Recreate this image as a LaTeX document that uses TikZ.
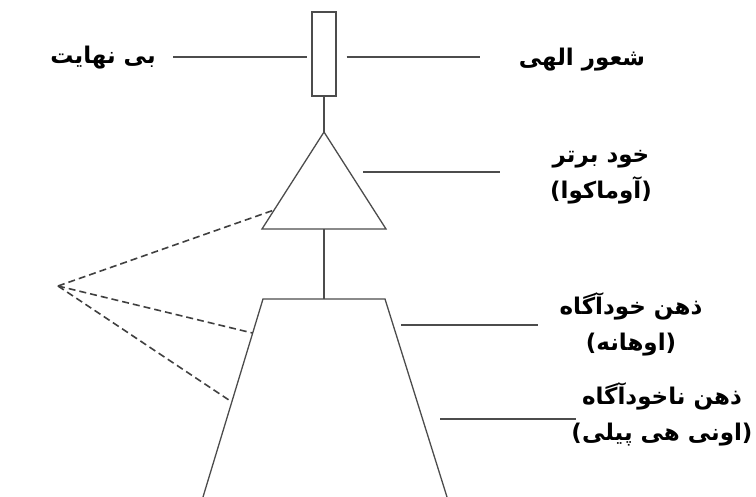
\documentclass[tikz,border=0pt]{standalone}
\usepackage{fontspec}
\newfontfamily\fafont[Script=Arabic]{DejaVu Sans}
\TeXXeTstate=1
\usetikzlibrary{calc}

\tikzset{
  part/.style={draw=black!70, line width=1.3pt},
  lead/.style={draw=black!70, line width=1.3pt},
  hint/.style={draw=black!75, line width=1.6pt, dash pattern=on 7pt off 4pt},
  lbl/.style={font=\fafont\bfseries\fontsize{23}{36}\selectfont, align=center, inner sep=0pt},
}

\begin{document}
\begin{tikzpicture}[x=1pt,y=-1pt]
\useasboundingbox (0,0) rectangle (756,497);
\def \cx {324}
\def \gap {4}

% the bar, the triangle and the trunk
\node[part, minimum width=24pt, minimum height=84pt, inner sep=0pt] (bar) at (\cx,54) {};
\coordinate (apex) at (\cx,132);
\coordinate (tbl) at (262,229);
\coordinate (tbr) at (386,229);
\coordinate (ztl) at (263,299);
\coordinate (ztr) at (385,299);
\coordinate (zbl) at (203,497);
\coordinate (zbr) at (447,497);
\draw[part] (apex) -- (tbl) -- (tbr) -- cycle;
\draw[part] (zbl) -- (ztl) -- (ztr) -- (zbr);
\draw[part] (bar.south) -- (apex);
\draw[part] (\cx,229) -- (\cx,299);

% labels
\node[lbl] (infinite) at (103,58) {\beginR بی نهایت\endR};
\node[lbl] (divine) at (582,60) {\beginR شعور الهی\endR};
\node[lbl] (higher) at (601,177) {\beginR خود برتر\endR\\\beginR(آوماکوا)\endR};
\node[lbl] (conscious) at (631,324) {\beginR ذهن خودآگاه\endR\\\beginR(اوهانه)\endR};
\node[lbl] (subcon) at (662,414) {\beginR ذهن ناخودآگاه\endR\\\beginR(اونی هی پیلی)\endR};

% leader lines
\coordinate (l1a) at (173,57);
\coordinate (l1b) at ($(bar.west)+(-\gap,3)$);
\coordinate (l2a) at ($(bar.east)+(10,3)$);
\coordinate (l2b) at (480,57);
\coordinate (l3a) at (363,172);
\coordinate (l3b) at (500,172);
\coordinate (l4a) at (401,325);
\coordinate (l4b) at (538,325);
\coordinate (l5a) at (440,419);
\coordinate (l5b) at (576,419);
\foreach \i in {1,...,5}
  \draw[lead] (l\i a) -- (l\i b);

% dashed ties
\coordinate (hub) at (58,286);
\foreach \a/\b/\t in {apex/tbl/0.804, ztl/zbl/0.172, ztl/zbl/0.52}
  \draw[hint] (hub) -- ($(\a)!\t!(\b)$);
\end{tikzpicture}
\end{document}
